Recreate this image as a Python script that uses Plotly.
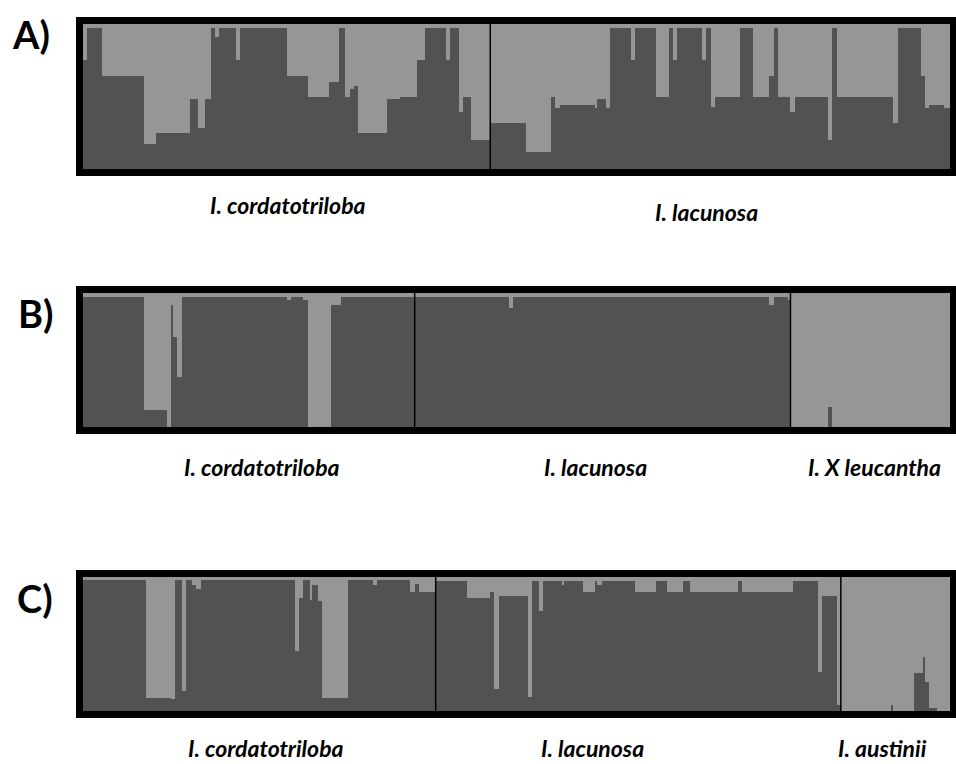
import plotly.graph_objects as go

# ---------------- data: ancestry (dark cluster) fraction per run of individuals ----------------
# Panel A
A_cord_q = [0.75, 0.97, 0.64, 0.17, 0.25, 0.48, 0.28, 0.48, 0.97, 0.91, 0.97, 0.75, 0.97, 0.64, 0.50,
            0.60, 0.97, 0.50, 0.55, 0.57, 0.25, 0.48, 0.50, 0.75, 0.97, 0.75, 0.97, 0.39, 0.50, 0.20]
A_cord_n = [2, 7, 20, 6, 16, 4, 3, 3, 2, 2, 8, 2, 22, 10, 10,
            5, 3, 2, 2, 2, 14, 6, 8, 4, 10, 2, 4, 2, 4, 9]
A_lac_q = [0.32, 0.12, 0.50, 0.42, 0.44, 0.42, 0.48, 0.42, 0.97, 0.75, 0.97, 0.50, 0.97, 0.75, 0.97,
           0.75, 0.97, 0.43, 0.50, 0.97, 0.50, 0.64, 0.97, 0.50, 0.39, 0.50, 0.20, 0.97, 0.50, 0.32,
           0.97, 0.64, 0.42, 0.44, 0.42]
A_lac_n = [17, 12, 2, 2, 17, 1, 4, 2, 10, 2, 10, 6, 2, 2, 12,
           2, 2, 2, 12, 6, 8, 2, 2, 6, 2, 16, 2, 2, 27, 2,
           11, 2, 2, 7, 3]

# Panel B
B_cord_q = [0.97, 0.125, 0.0, 0.91, 0.675, 0.375, 0.97, 0.95, 0.97, 0.95, 0.0, 0.91, 0.97]
B_cord_n = [29, 11, 2, 1, 2, 2, 50, 2, 6, 2, 11, 5, 35]
B_lac_q = [0.97, 0.89, 0.97, 0.91, 0.97, 0.95]
B_lac_n = [45, 2, 122, 2, 7, 1]
B_leu_q = [0.0, 0.15, 0.0]
B_leu_n = [18, 2, 56]

# Panel C
C_cord_q = [0.975, 0.10, 0.087, 0.975, 0.15, 0.975, 0.94, 0.91, 0.975, 0.45, 0.84, 0.975, 0.83, 0.94,
            0.82, 0.094, 0.975, 0.94, 0.975, 0.89, 0.95, 0.89]
C_cord_n = [30, 12, 2, 3, 2, 3, 2, 2, 45, 2, 2, 3, 1, 3,
            2, 12, 12, 2, 16, 2, 2, 8]
C_lac_q = [0.97, 0.846, 0.89, 0.164, 0.86, 0.107, 0.97, 0.75, 0.97, 0.94, 0.97, 0.89, 0.97, 0.94,
           0.97, 0.89, 0.97, 0.89, 0.97, 0.89, 0.97, 0.89, 0.97, 0.29, 0.86, 0.045]
C_lac_n = [15, 11, 2, 2, 14, 2, 3, 2, 9, 1, 9, 6, 1, 2,
           16, 10, 5, 8, 3, 23, 2, 24, 12, 2, 7, 2]
C_aus_q = [0.0, 0.045, 0.0, 0.28, 0.40, 0.22, 0.025, 0.0]
C_aus_n = [24, 1, 10, 4, 1, 2, 4, 6]

panel_labels = ["A)", "B)", "C)"]
group_names = [
    ["I. cordatotriloba", "I. lacunosa"],
    ["I. cordatotriloba", "I. lacunosa", "I. X leucantha"],
    ["I. cordatotriloba", "I. lacunosa", "I. austinii"],
]
panel_data = [
    [(A_cord_q, A_cord_n), (A_lac_q, A_lac_n)],
    [(B_cord_q, B_cord_n), (B_lac_q, B_lac_n), (B_leu_q, B_leu_n)],
    [(C_cord_q, C_cord_n), (C_lac_q, C_lac_n), (C_aus_q, C_aus_n)],
]

# ---------------- layout (pixels) ----------------
W, H = 956, 764
DARK = "#525252"
LIGHT = "#969696"
X0, X1 = 83, 950
panel_y = [(24, 169), (293, 427), (577, 711)]
panel_label_pos = [(31, 34), (35, 313), (35, 598)]
name_pos = [
    [(288, 205), (706, 212)],
    [(262, 467), (595, 467), (874, 467)],
    [(266, 748), (592, 748), (882, 748)],
]


def px(x):
    return x / W


def py(y):
    return 1 - y / H


fig = go.Figure()
annotations = []
shapes = []

for i, groups in enumerate(panel_data):
    k = "" if i == 0 else str(i + 1)
    q_all = []
    bounds = []
    for q, n in groups:
        for v, c in zip(q, n):
            q_all.extend([v] * c)
        bounds.append(len(q_all))
    N = len(q_all)
    xs = [j + 0.5 for j in range(N)]
    fig.add_trace(go.Bar(x=xs, y=q_all, marker=dict(color=DARK, line=dict(width=0)), width=1,
                         xaxis="x" + k, yaxis="y" + k, showlegend=False, hoverinfo="skip"))
    fig.add_trace(go.Bar(x=xs, y=[1 - v for v in q_all], marker=dict(color=LIGHT, line=dict(width=0)),
                         width=1, xaxis="x" + k, yaxis="y" + k, showlegend=False, hoverinfo="skip"))
    yt, yb = panel_y[i]
    ax = dict(domain=[px(X0), px(X1)], range=[0, N], showgrid=False, zeroline=False,
              showticklabels=False, ticks="", showline=True, mirror=True, linecolor="black",
              linewidth=7, anchor="y" + k, fixedrange=True)
    ay = dict(domain=[py(yb), py(yt)], range=[0, 1], showgrid=False, zeroline=False,
              showticklabels=False, ticks="", showline=True, mirror=True, linecolor="black",
              linewidth=7, anchor="x" + k, fixedrange=True)
    fig.layout["xaxis" + k] = ax
    fig.layout["yaxis" + k] = ay
    # group dividers
    for b in bounds[:-1]:
        shapes.append(dict(type="line", xref="x" + k, yref="y" + k + " domain", x0=b, x1=b, y0=0, y1=1,
                           line=dict(color="black", width=1.5), layer="above"))
    # panel label
    lx, ly = panel_label_pos[i]
    annotations.append(dict(text="<b>" + panel_labels[i] + "</b>", x=px(lx), y=py(ly), xref="paper",
                            yref="paper", showarrow=False, xanchor="center", yanchor="middle",
                            font=dict(family="Lato", size=38, color="black")))
    for name, (nx, ny) in zip(group_names[i], name_pos[i]):
        annotations.append(dict(text="<b><i>" + name + "</i></b>", x=px(nx), y=py(ny), xref="paper",
                                yref="paper", showarrow=False, xanchor="center", yanchor="middle",
                                font=dict(family="Lato", size=23, color="black")))

fig.update_layout(width=W, height=H, margin=dict(l=0, r=0, t=0, b=0), barmode="stack", bargap=0,
                  paper_bgcolor="white", plot_bgcolor=LIGHT, annotations=annotations, shapes=shapes,
                  showlegend=False)

fig.write_html("out.html", config={"displayModeBar": False})
